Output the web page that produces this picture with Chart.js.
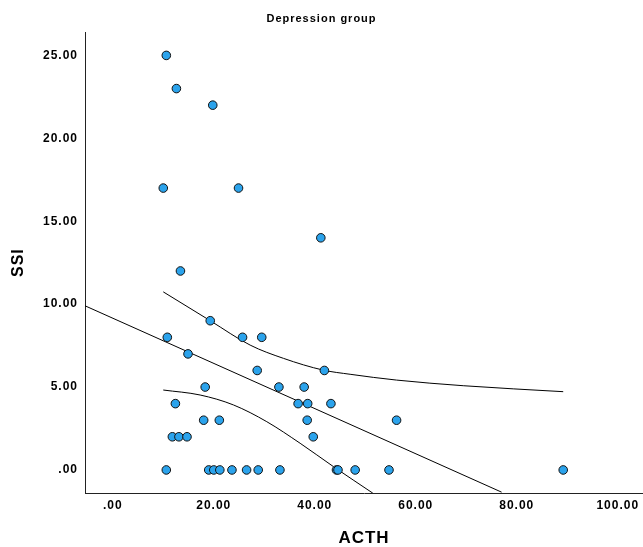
<!DOCTYPE html>
<html>
<head>
<meta charset="utf-8">
<script src="https://cdn.jsdelivr.net/npm/chart.js@4.4.1/dist/chart.umd.min.js"></script>
<style>
    html, body { margin: 0; padding: 0; background: #fff; }
    #chart { display: block; }
</style>
</head>
<body>
<canvas id="chart" width="643" height="547"></canvas>
<script>
// Scatter values (ACTH on x, SSI on y)
const acth = [10.6, 12.6, 19.8, 10.0, 24.9, 41.2, 13.4, 19.3, 10.8, 25.7, 29.5, 14.9, 28.6, 41.9,
              18.3, 32.9, 37.9, 12.4, 36.7, 38.6, 43.2, 18.0, 21.1, 38.5, 56.2, 11.8, 13.1, 14.7, 39.7,
              10.6, 19.0, 20.0, 21.2, 23.6, 26.5, 28.8, 33.1, 44.3, 44.6, 48.0, 54.7, 89.2];
const ssi  = [25, 23, 22, 17, 17, 14, 12, 9, 8, 8, 8, 7, 6, 6,
              5, 5, 5, 4, 4, 4, 4, 3, 3, 3, 3, 2, 2, 2, 2,
              0, 0, 0, 0, 0, 0, 0, 0, 0, 0, 0, 0, 0];

// Fit line (ends at the plot edges)
const fitX = [-5.5, 77.0];
const fitY = [9.9, -1.34];

// Confidence band of the mean
const upperX = [10.0, 19.3, 27.2, 33.8, 41.7, 47.0, 56.2, 69.4, 89.2];
const upperY = [10.74, 9.0, 7.53, 6.73, 6.02, 5.77, 5.42, 5.08, 4.72];
const lowerX = [10.0, 17.3, 23.9, 30.5, 37.1, 43.7, 51.5];
const lowerY = [4.82, 4.52, 3.92, 2.91, 1.61, 0.20, -1.40];

// Ticks
const xTicks = [0, 20, 40, 60, 80, 100];
const xTickLabels = ['.00', '20.00', '40.00', '60.00', '80.00', '100.00'];
const yTicks = [0, 5, 10, 15, 20, 25];
const yTickLabels = ['.00', '5.00', '10.00', '15.00', '20.00', '25.00'];

const pts = (xs, ys) => xs.map((x, i) => ({ x: x, y: ys[i] }));

// letter spacing like the SPSS labels (canvas state is reset on resize, so set it each pass)
const spacing = {
    id: 'spacing',
    beforeUpdate(chart) { chart.ctx.letterSpacing = '1px'; },
    beforeDraw(chart) { chart.ctx.letterSpacing = '1px'; }
};

const tickFont = { family: 'Arial, "Liberation Sans", sans-serif', size: 12, weight: 'bold' };

new Chart(document.getElementById('chart'), {
    type: 'scatter',
    data: {
        datasets: [
            {
                data: pts(acth, ssi),
                backgroundColor: '#2BA3EC',
                borderColor: '#111',
                borderWidth: 1,
                pointRadius: 4.3,
                pointHoverRadius: 4.3
            },
            {
                type: 'line',
                data: pts(fitX, fitY),
                borderColor: '#000',
                borderWidth: 1,
                pointRadius: 0,
                fill: false
            },
            {
                type: 'line',
                data: pts(upperX, upperY),
                borderColor: '#000',
                borderWidth: 1,
                pointRadius: 0,
                cubicInterpolationMode: 'monotone',
                fill: false
            },
            {
                type: 'line',
                data: pts(lowerX, lowerY),
                borderColor: '#000',
                borderWidth: 1,
                pointRadius: 0,
                cubicInterpolationMode: 'monotone',
                fill: false
            }
        ]
    },
    options: {
        responsive: false,
        animation: false,
        devicePixelRatio: 1,
        layout: { autoPadding: false, padding: 0 },
        plugins: {
            legend: { display: false },
            tooltip: { enabled: false },
            title: {
                display: true,
                text: 'Depression group',
                color: '#000',
                font: { family: 'Arial, "Liberation Sans", sans-serif', size: 11, weight: 'bold' },
                padding: { top: 12, bottom: 7 }
            }
        },
        scales: {
            x: {
                type: 'linear',
                min: -5.5,
                max: 105,
                grid: { display: false, drawTicks: false },
                border: { display: true, color: '#222', width: 1 },
                afterBuildTicks: (scale) => { scale.ticks = xTicks.map(v => ({ value: v })); },
                afterFit: (scale) => {
                    scale.height = 54;
                    scale.paddingLeft = 0;
                    scale.paddingRight = 0;
                },
                ticks: {
                    color: '#000',
                    font: tickFont,
                    padding: 5,
                    maxRotation: 0,
                    callback: (v, i) => xTickLabels[i]
                },
                title: {
                    display: true,
                    text: 'ACTH',
                    color: '#000',
                    font: { family: 'Arial, "Liberation Sans", sans-serif', size: 17, weight: 'bold' },
                    padding: { top: 0, bottom: -2 }
                }
            },
            y: {
                type: 'linear',
                min: -1.39,
                max: 26.4,
                grid: { display: false, drawTicks: false },
                border: { display: true, color: '#222', width: 1 },
                afterBuildTicks: (scale) => { scale.ticks = yTicks.map(v => ({ value: v })); },
                afterFit: (scale) => { scale.width = 85; },
                ticks: {
                    color: '#000',
                    font: tickFont,
                    padding: 7,
                    callback: (v, i) => yTickLabels[i]
                },
                title: {
                    display: true,
                    text: 'SSI',
                    color: '#000',
                    font: { family: 'Arial, "Liberation Sans", sans-serif', size: 16, weight: 'bold' },
                    padding: { top: 9, bottom: 0 }
                }
            }
        }
    },
    plugins: [spacing]
});
</script>
</body>
</html>
